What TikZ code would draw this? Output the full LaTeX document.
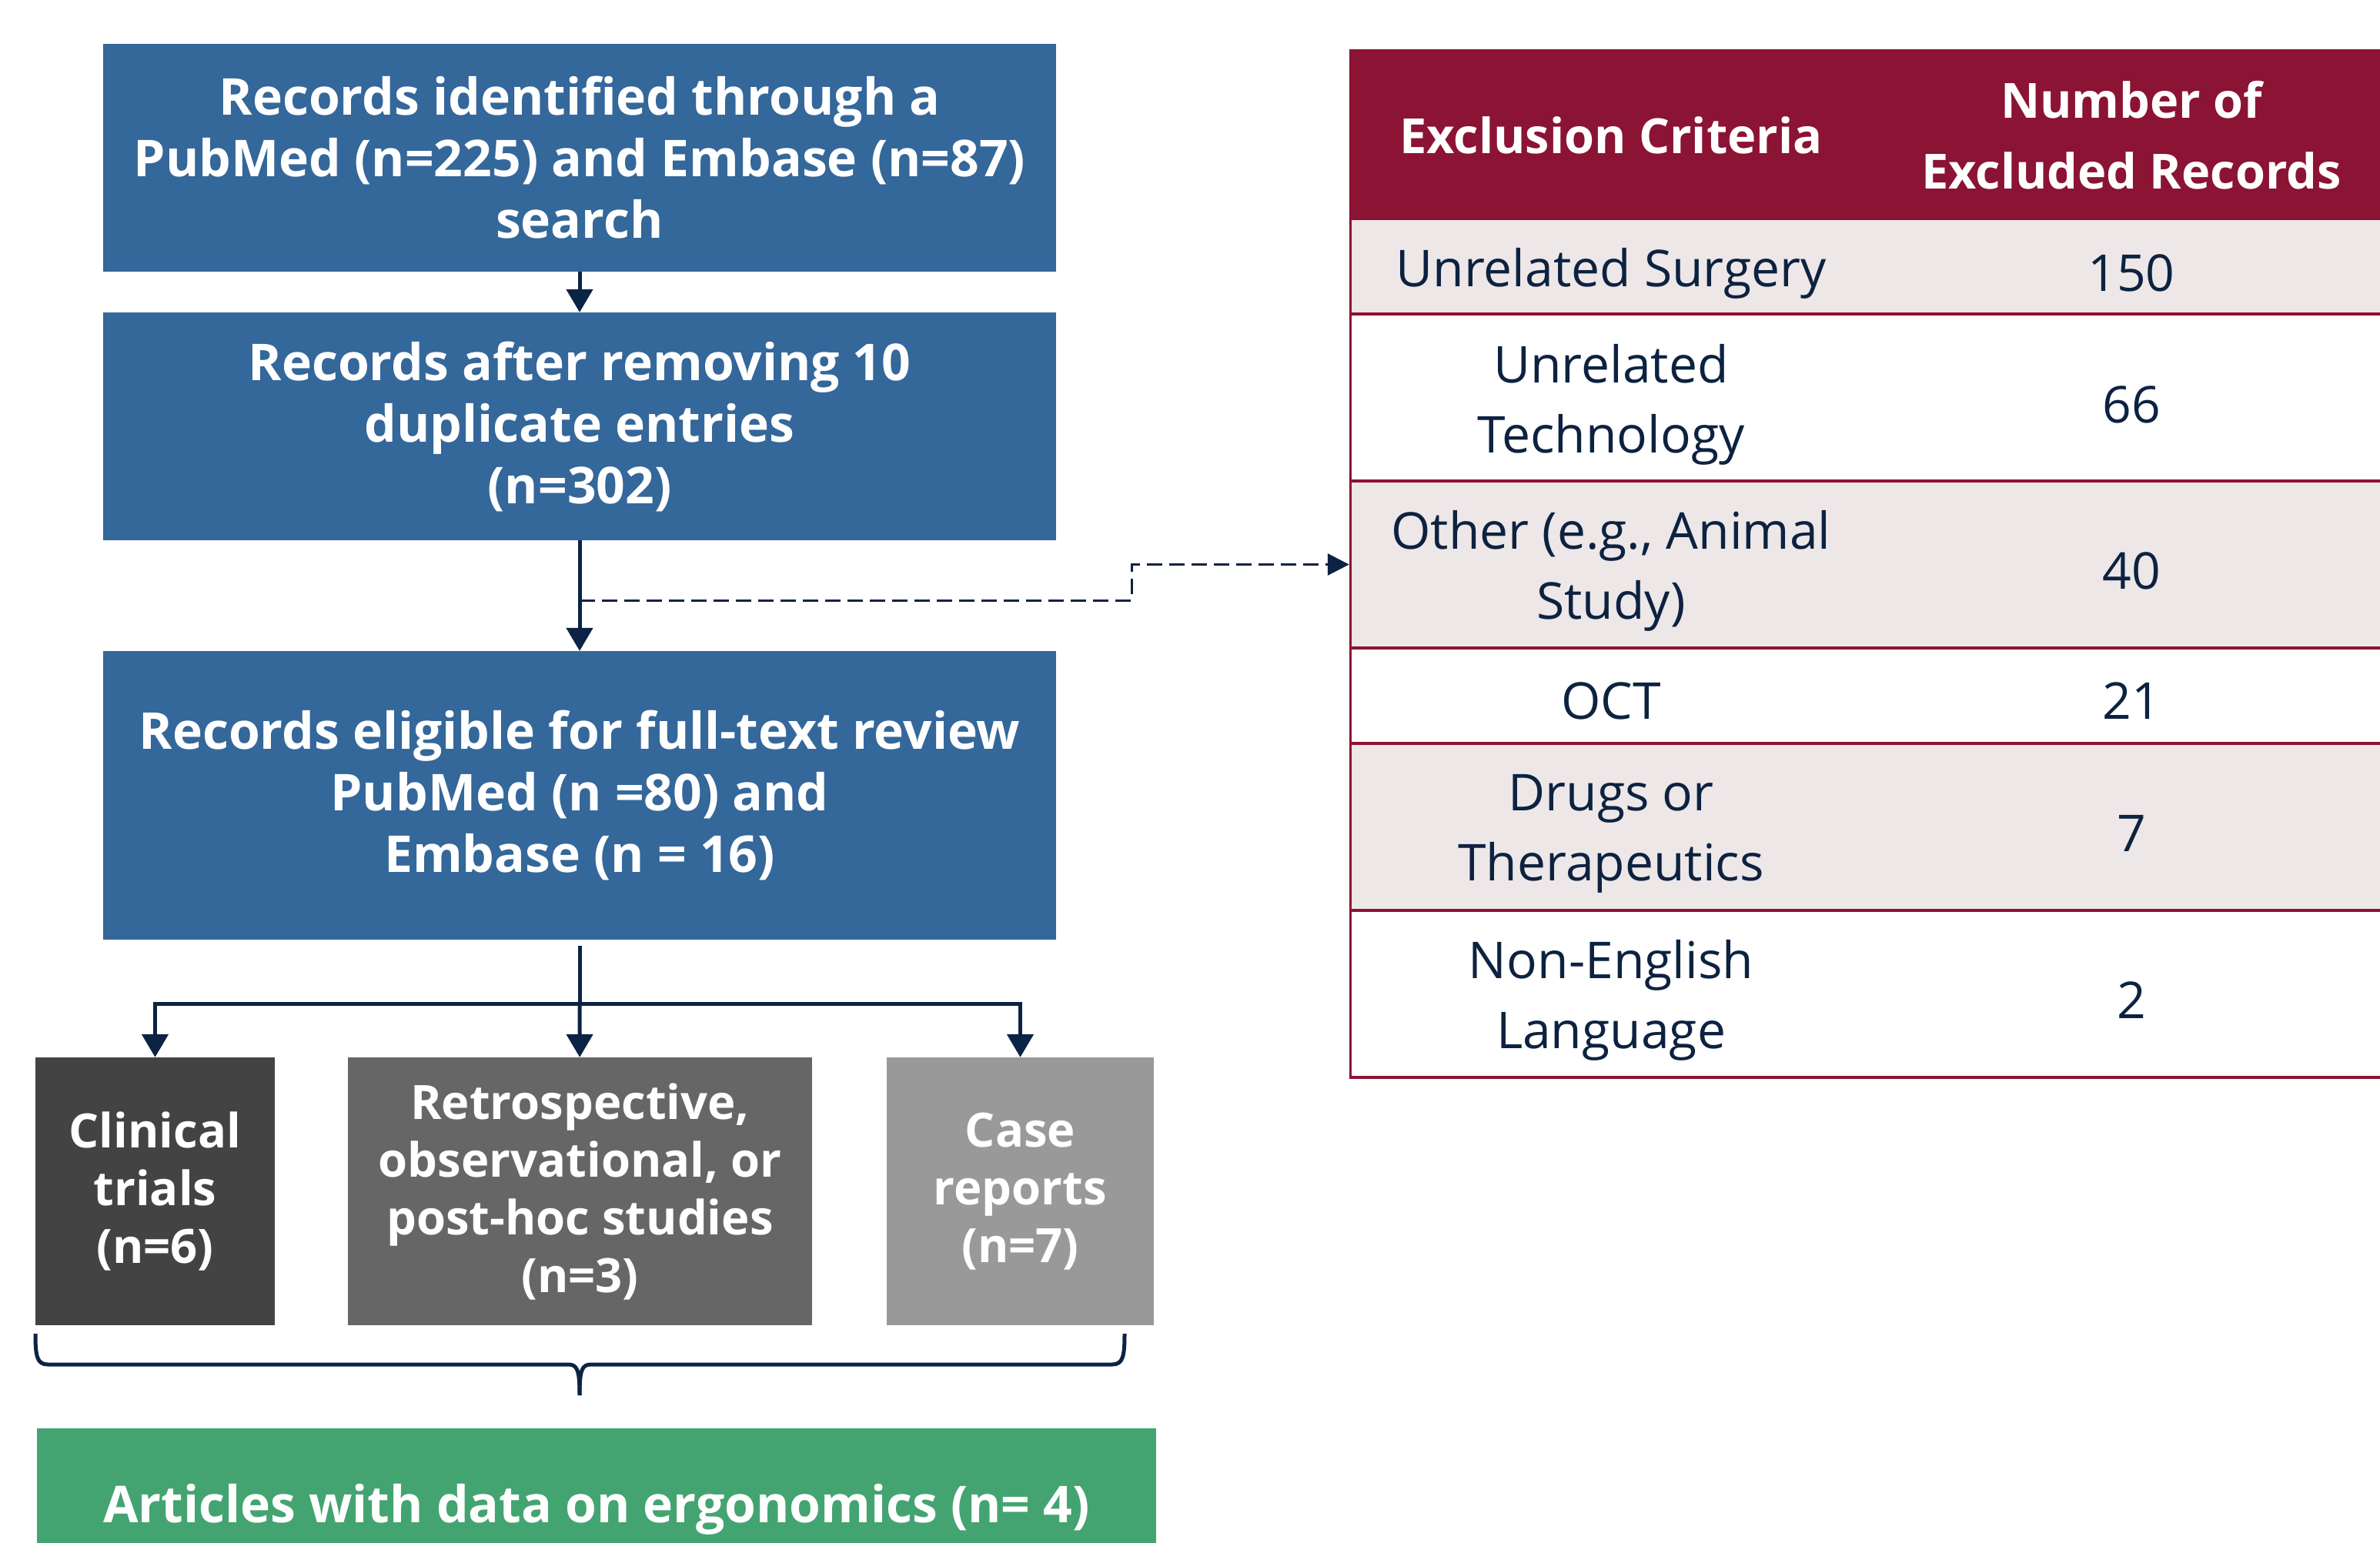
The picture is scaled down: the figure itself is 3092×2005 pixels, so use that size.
\documentclass[tikz,border=0pt]{standalone}
\usepackage{fontspec}
\setmainfont{Open Sans}
\usetikzlibrary{arrows.meta}
\definecolor{boxblue}{HTML}{34679A}
\definecolor{navy}{HTML}{0B2344}
\definecolor{crimson}{HTML}{8B1333}
\definecolor{rowshade}{HTML}{EDE7E8}
\definecolor{tabtext}{HTML}{0D2240}
\definecolor{gdark}{HTML}{434343}
\definecolor{gmid}{HTML}{666666}
\definecolor{glight}{HTML}{999999}
\definecolor{artgreen}{HTML}{44A471}
\begin{document}
\begin{tikzpicture}[x=1pt,y=-1pt,
  boxtext/.style={text=white,font=\fontsize{66}{80}\selectfont\bfseries,align=center,inner sep=0pt},
  bluebox/.style={boxtext,fill=boxblue,minimum width=1238pt},
  smallbox/.style={boxtext,font=\fontsize{61.5}{75}\selectfont\bfseries,minimum height=348pt},
  conn/.style={draw=navy,line width=5pt},
  arr/.style={conn,-{Triangle[length=30pt,width=34pt]}},
  cell/.style={text=tabtext,font=\fontsize{66}{91}\selectfont,align=center,inner sep=0pt},
  headcell/.style={text=white,font=\fontsize{63}{92}\selectfont\bfseries,align=center,inner sep=0pt},
  sepline/.style={draw=crimson,line width=4pt}]
\useasboundingbox (0,0) rectangle (3092,2005);
\clip (0,0) rectangle (3092,2005);

% flow boxes
\node[bluebox,minimum height=296pt] (b1) at (753,205) {Records identified through a\\PubMed (n=225) and Embase (n=87)\\search};
\node[bluebox,minimum height=296pt] (b2) at (753,554) {Records after removing 10\\duplicate entries\\(n=302)};
\node[bluebox,minimum height=375pt] (b3) at (753,1033.5) {Records eligible for full-text review\\PubMed (n =80) and\\Embase (n = 16)};
\node[smallbox,fill=gdark,minimum width=311pt] (bA) at (201.5,1548) {Clinical\\trials\\(n=6)};
\node[smallbox,fill=gmid,minimum width=603pt] (bB) at (753.5,1548) {Retrospective,\\observational, or\\post-hoc studies\\(n=3)};
\node[smallbox,fill=glight,minimum width=347pt] (bC) at (1325.5,1548) {Case\\reports\\(n=7)};
\node[boxtext,fill=artgreen,minimum width=1454pt,minimum height=210pt] (bG) at (775,1961) {Articles with data on ergonomics (n= 4)};

% connectors
\draw[arr] (b1) -- (b2);
\draw[arr] (b2) -- (b3);
\coordinate (br) at (753,1304);
\draw[conn] ([yshift=-8pt]b3.south) -- (br);
\draw[arr] (br) -| (bA);
\draw[arr] (br) -- (bB);
\draw[arr] (br) -| (bC);

% table
\fill[crimson] (1753,64) rectangle (3105,286);
\fill[rowshade] (1753,286) rectangle (3105,408);
\fill[rowshade] (1753,625) rectangle (3105,842);
\fill[rowshade] (1753,966) rectangle (3105,1183);
\draw[draw=crimson,line width=3pt] (1754,64) -- (1754,1400);
\foreach \yy in {408,625,842,966,1183,1400} \draw[sepline] (1753,\yy) -- (3105,\yy);

\node[headcell,minimum width=680pt,minimum height=222pt] (h1) at (2093,176) {Exclusion Criteria};
\node[headcell,minimum width=672pt,minimum height=222pt] (h2) at (2769,176) {Number of\\Excluded Records};
\node[cell,minimum width=680pt,minimum height=122pt] (r1a) at (2093,355) {Unrelated Surgery};
\node[cell] (r1b) at (2769,355) {150};
\node[cell,minimum width=680pt,minimum height=217pt] (r2a) at (2093,526) {Unrelated\\Technology};
\node[cell] (r2b) at (2769,526) {66};
\node[cell,minimum width=680pt,minimum height=217pt] (r3a) at (2093,742) {Other (e.g., Animal\\Study)};
\node[cell] (r3b) at (2769,742) {40};
\node[cell,minimum width=680pt,minimum height=124pt] (r4a) at (2093,911) {OCT};
\node[cell] (r4b) at (2769,911) {21};
\node[cell,minimum width=680pt,minimum height=217pt] (r5a) at (2093,1083) {Drugs or\\Therapeutics};
\node[cell] (r5b) at (2769,1083) {7};
\node[cell,minimum width=680pt,minimum height=217pt] (r6a) at (2093,1300) {Non-English\\Language};
\node[cell] (r6b) at (2769,1300) {2};

% dashed connector to the table
\coordinate (dashstart) at (753,780);
\draw[draw=navy,line width=3pt,dash pattern=on 20pt off 9pt,-{Triangle[length=28pt,width=28pt]}]
  (dashstart) -- ++(717,0) |- ([yshift=8.5pt]r3a.west);

% brace
\draw[draw=navy,line width=5pt,line join=round]
  (46,1733) .. controls (46,1762) and (48,1773) .. (62,1773) -- (738,1773)
  .. controls (750,1773) and (753,1780) .. (753,1813);
\draw[draw=navy,line width=5pt,line join=round]
  (1461,1733) .. controls (1461,1762) and (1459,1773) .. (1445,1773) -- (768,1773)
  .. controls (756,1773) and (753,1780) .. (753,1813);
\end{tikzpicture}
\end{document}
